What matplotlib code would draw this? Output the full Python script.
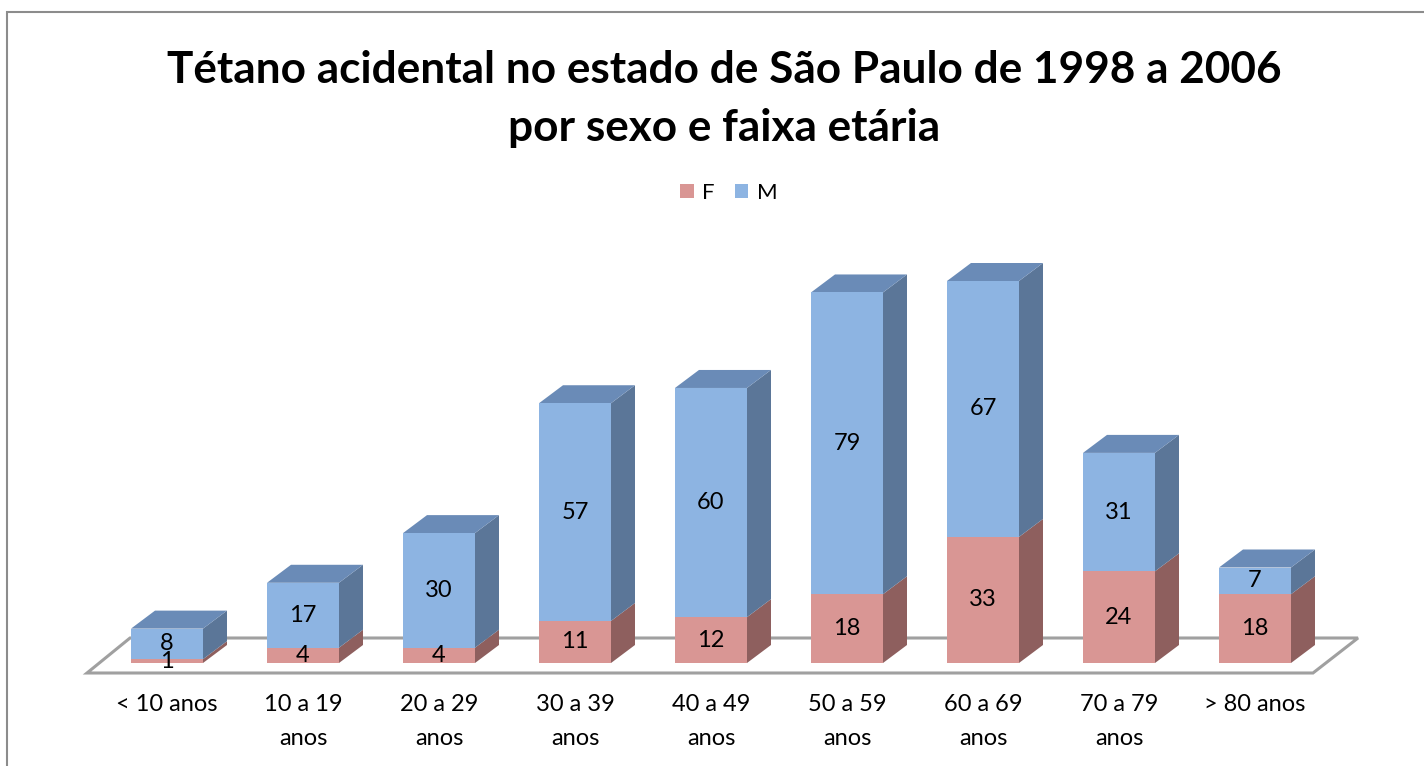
import numpy as np
import matplotlib.pyplot as plt
from matplotlib.patches import Polygon, Rectangle

plt.rcParams['font.family'] = ['Lato', 'DejaVu Sans']

# Data
categorias = ['< 10 anos', '10 a 19\nanos', '20 a 29\nanos', '30 a 39\nanos', '40 a 49\nanos',
              '50 a 59\nanos', '60 a 69\nanos', '70 a 79\nanos', '> 80 anos']
feminino = [1, 4, 4, 11, 12, 18, 33, 24, 18]
masculino = [8, 17, 30, 57, 60, 79, 67, 31, 7]
series_names = ['F', 'M']

# Colours (front, side, top)
cores = {
    'F': ('#D99694', '#8E5F5E', '#B07877'),
    'M': ('#8DB4E2', '#5B7698', '#6A8BB7'),
}

# Layout in pixels
W, H = 1424, 766
x0_px, step_px = 167, 136      # centre of first bar, spacing
y0_px, unit_px = 663, 3.82     # baseline, pixels per case
depth_px = (24, 18)
bar_w = 72 / step_px
ddx = depth_px[0] / step_px
ddy = depth_px[1] / unit_px

fig = plt.figure(figsize=(W / 100, H / 100), dpi=100)
ax = fig.add_axes([0, 0, 1, 1])
ax.set_xlim((0 - x0_px) / step_px, (W - x0_px) / step_px)
ax.set_ylim((y0_px - H) / unit_px, y0_px / unit_px)
ax.axis('off')

# outer border (only left and top visible)
fig.patches.append(Rectangle((7 / W, -0.1), 1.2, 1 - 12 / H + 0.1, transform=fig.transFigure,
                             fill=False, edgecolor='#8C8C8C', linewidth=1.5))

x = np.arange(len(categorias))
fem = np.array(feminino, dtype=float)
mas = np.array(masculino, dtype=float)

# floor
fy_front = -10 / unit_px
fy_back = 25 / unit_px
floor = [(-80 / step_px, fy_front), (8 + 58 / step_px, fy_front),
         (8 + 103 / step_px, fy_back), (-37 / step_px, fy_back)]
ax.add_patch(Polygon(floor, closed=True, fill=False, edgecolor='#A0A0A0', linewidth=2.2, zorder=1))


def box(xc, y_bot, y_top, cor, top=False):
    xr = xc + bar_w / 2
    xl = xc - bar_w / 2
    side = [(xr, y_bot), (xr + ddx, y_bot + ddy), (xr + ddx, y_top + ddy), (xr, y_top)]
    ax.add_patch(Polygon(side, closed=True, facecolor=cor[1], edgecolor='none', zorder=2))
    if top:
        tp = [(xl, y_top), (xr, y_top), (xr + ddx, y_top + ddy), (xl + ddx, y_top + ddy)]
        ax.add_patch(Polygon(tp, closed=True, facecolor=cor[2], edgecolor='none', zorder=2))


for i in x:
    box(i, 0, fem[i], cores['F'])
    box(i, fem[i], fem[i] + mas[i], cores['M'], top=True)

ax.bar(x, fem, width=bar_w, color=cores['F'][0], zorder=3, label='F')
ax.bar(x, mas, width=bar_w, bottom=fem, color=cores['M'][0], zorder=3, label='M')

# value labels
for i in x:
    ax.text(i, fem[i] / 2, f'{feminino[i]}', ha='center', va='center', fontsize=17, zorder=5)
    ax.text(i, fem[i] + mas[i] / 2, f'{masculino[i]}', ha='center', va='center', fontsize=17, zorder=5)

# category labels
for i, lab in enumerate(categorias):
    ax.text(i, (y0_px - 694) / unit_px, lab, ha='center', va='top', fontsize=17,
            linespacing=1.78)

# title
fig.text(724 / W, 1 - 70 / H, 'Tétano acidental no estado de São Paulo de 1998 a 2006',
         ha='center', va='center', fontsize=31.8, fontweight='bold')
fig.text(724 / W, 1 - 128 / H, 'por sexo e faixa etária',
         ha='center', va='center', fontsize=31.8, fontweight='bold')

# legend
handles, labels = ax.get_legend_handles_labels()
fig.legend(handles, labels, loc='center', bbox_to_anchor=(729 / W, 1 - 193 / H), ncol=2,
           frameon=False, fontsize=16, handlelength=0.6, handleheight=0.6,
           handletextpad=0.4, columnspacing=0.9)

fig.savefig('out.png', dpi=100)
